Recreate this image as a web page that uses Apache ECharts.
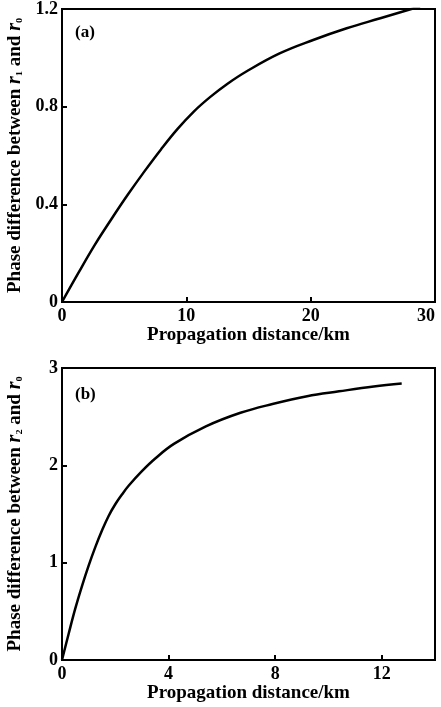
<!DOCTYPE html>
<html>
<head>
    <meta charset="utf-8">
    <script src="https://cdn.jsdelivr.net/npm/echarts@6/dist/echarts.min.js"></script>
    <style>
        html, body { margin: 0; padding: 0; background: #fff; }
        #main { width: 441px; height: 707px; }
    </style>
</head>
<body>
    <div id="main"></div>
    <script type="text/javascript">
        // (a) phase difference between r1 and r0
        var distA = [0, 1.33, 2.65, 3.98, 5.30, 6.63, 7.96, 9.28, 10.6, 11.93, 13.26, 14.86, 17.5, 20.2, 22.9, 25.6, 28.3, 28.8];
        var phaseA = [0, 0.12, 0.235, 0.34, 0.44, 0.535, 0.625, 0.708, 0.78, 0.84, 0.892, 0.945, 1.018, 1.073, 1.121, 1.162, 1.203, 1.21];

        // (b) phase difference between r2 and r0
        var distB = [0, 0.25, 0.5, 0.75, 1.0, 1.25, 1.5, 1.75, 2.0, 2.25, 2.5, 3.0, 3.5, 4.2, 5.4, 6.7, 7.9, 9.2, 10.4, 11.7, 12.75];
        var phaseB = [0, 0.27, 0.53, 0.76, 0.97, 1.16, 1.33, 1.48, 1.60, 1.70, 1.79, 1.94, 2.07, 2.22, 2.40, 2.54, 2.63, 2.71, 2.76, 2.81, 2.84];

        var xName = 'Propagation distance/km';
        var font = '"Liberation Serif", "DejaVu Serif", serif';

        function pairs(xs, ys) {
            return xs.map(function (x, i) { return [x, ys[i]]; });
        }

        function yName(sub) {
            return '{n|Phase difference between }{i|r}{s|' + sub + '}{n| and }{i|r}{s|\u2080}';
        }

        var nameRich = {
            n: { fontFamily: font, fontWeight: 'bold', fontSize: 19, color: '#000' },
            i: { fontFamily: font, fontStyle: 'italic', fontWeight: 'bold', fontSize: 20, color: '#000' },
            s: { fontFamily: font, fontWeight: 'bold', fontSize: 17, color: '#000' }
        };

        var axisCommon = {
            type: 'value',
            axisLine: { show: true, lineStyle: { color: '#000', width: 2 } },
            axisTick: { show: true, inside: true, length: 5, lineStyle: { color: '#000', width: 2 } },
            splitLine: { show: false },
            axisLabel: { color: '#000', fontFamily: font, fontWeight: 'bold', fontSize: 18 },
            nameTextStyle: { color: '#000', fontFamily: font, fontWeight: 'bold', fontSize: 19 }
        };

        function xAxis(idx, max, interval, gap) {
            return Object.assign({}, axisCommon, {
                gridIndex: idx, min: 0, max: max, interval: interval,
                name: xName, nameLocation: 'middle', nameGap: gap,
                axisLabel: Object.assign({}, axisCommon.axisLabel, {
                    margin: 5, showMaxLabel: max !== 14, alignMaxLabel: 'right'
                })
            });
        }

        function yAxis(idx, max, interval, sub) {
            return Object.assign({}, axisCommon, {
                gridIndex: idx, min: 0, max: max, interval: interval,
                name: yName(sub), nameLocation: 'middle', nameGap: 37,
                nameTextStyle: { rich: nameRich },
                axisLabel: Object.assign({}, axisCommon.axisLabel, { margin: 4 })
            });
        }

        var myChart = echarts.init(document.getElementById('main'));

        myChart.setOption({
            animation: false,
            backgroundColor: '#fff',
            title: [
                { text: '(a)', left: 70, top: 19, textStyle: { fontFamily: font, fontWeight: 'bold', fontSize: 17, color: '#000' } },
                { text: '(b)', left: 70, top: 381, textStyle: { fontFamily: font, fontWeight: 'bold', fontSize: 17, color: '#000' } }
            ],
            grid: [
                { left: 62, right: 6, top: 9, height: 293, containLabel: false, outerBoundsMode: 'none',
                  show: true, borderColor: '#000', borderWidth: 2 },
                { left: 62, right: 6, top: 368, height: 292, containLabel: false, outerBoundsMode: 'none',
                  show: true, borderColor: '#000', borderWidth: 2 }
            ],
            xAxis: [
                xAxis(0, 30, 10, 23),
                xAxis(1, 14, 4, 21)
            ],
            yAxis: [
                yAxis(0, 1.2, 0.4, '\u2081'),
                yAxis(1, 3, 1, '\u2082')
            ],
            series: [
                {
                    type: 'line', xAxisIndex: 0, yAxisIndex: 0,
                    showSymbol: false, smooth: 0.4,
                    lineStyle: { color: '#000', width: 2.5 },
                    data: pairs(distA, phaseA)
                },
                {
                    type: 'line', xAxisIndex: 1, yAxisIndex: 1,
                    showSymbol: false, smooth: 0.4,
                    lineStyle: { color: '#000', width: 2.5 },
                    data: pairs(distB, phaseB)
                }
            ]
        });
    </script>
</body>
</html>
